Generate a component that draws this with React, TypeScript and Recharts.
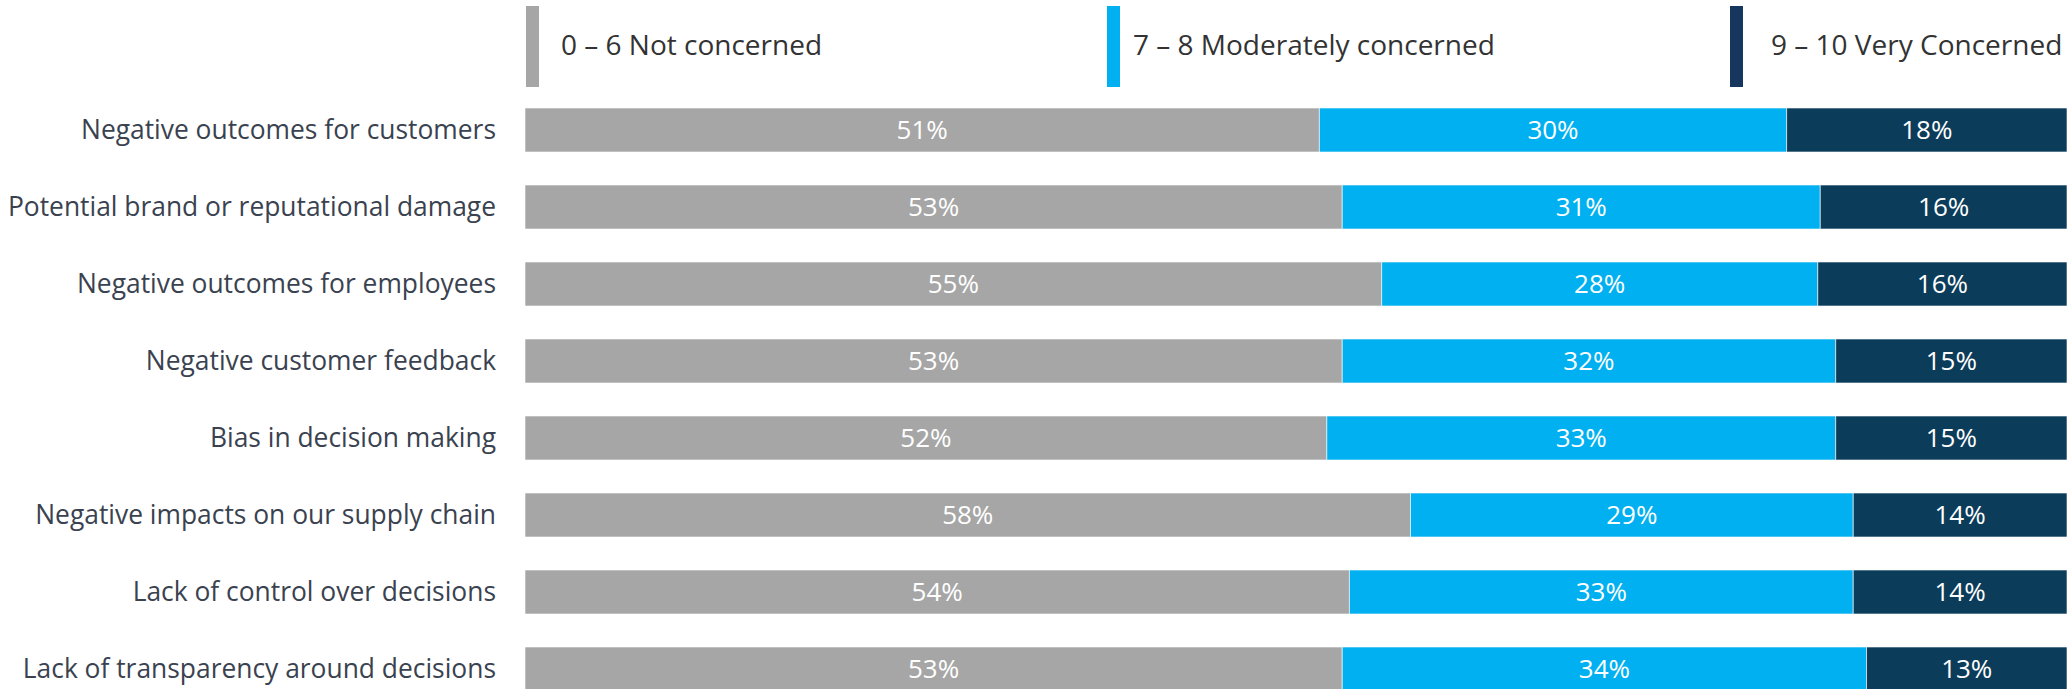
import React from 'react'
import { BarChart, Bar, XAxis, YAxis, LabelList } from 'recharts'

const categories = [
  'Negative outcomes for customers',
  'Potential brand or reputational damage',
  'Negative outcomes for employees',
  'Negative customer feedback',
  'Bias in decision making',
  'Negative impacts on our supply chain',
  'Lack of control over decisions',
  'Lack of transparency around decisions',
]
const notConcerned = [51, 53, 55, 53, 52, 58, 54, 53]
const moderately = [30, 31, 28, 32, 33, 29, 33, 34]
const very = [18, 16, 16, 15, 15, 14, 14, 13]

const seriesNames = ['0 – 6 Not concerned', '7 – 8 Moderately concerned', '9 – 10 Very Concerned']
const barColors = ['#A6A6A6', '#00B0F0', '#0B3C5A']
const legendColors = ['#A6A6A6', '#00B0F0', '#17365D']

// legend placement (px): swatch left, text left
const legendPos = [
  { bar: 526, text: 561 },
  { bar: 1107, text: 1133 },
  { bar: 1730, text: 1771 },
]

const data = categories.map((name, i) => ({
  name,
  a: notConcerned[i],
  b: moderately[i],
  c: very[i],
}))

const FONT = '"Open Sans", "Noto Sans", sans-serif'

export default function App() {
  return (
    <div
      style={{
        width: 2067,
        height: 689,
        overflow: 'hidden',
        position: 'relative',
        background: '#fff',
        fontFamily: FONT,
      }}
    >
      <style>{'html,body{margin:0;padding:0;overflow:hidden}'}</style>
      {seriesNames.map((s, i) => (
        <React.Fragment key={s}>
          <div
            style={{
              position: 'absolute',
              left: legendPos[i].bar,
              top: 6,
              width: 13,
              height: 81,
              background: legendColors[i],
            }}
          />
          <div
            style={{
              position: 'absolute',
              left: legendPos[i].text,
              top: 25,
              fontSize: 28,
              lineHeight: '38px',
              color: '#333333',
              whiteSpace: 'nowrap',
            }}
          >
            {s}
          </div>
        </React.Fragment>
      ))}
      <div style={{ position: 'absolute', left: 0, top: 0 }}>
        <BarChart
          width={2067}
          height={707}
          data={data}
          layout="vertical"
          stackOffset="expand"
          margin={{ top: 91, right: 0, left: 0, bottom: 0 }}
          barSize={44}
        >
          <XAxis type="number" domain={[0, 1]} hide />
          <YAxis
            type="category"
            dataKey="name"
            width={525}
            axisLine={false}
            tickLine={false}
            tickSize={0}
            tickMargin={29}
            tick={{ fill: '#3A4250', fontSize: 26.4, fontFamily: FONT }}
            interval={0}
          />
          {['a', 'b', 'c'].map((k, i) => (
            <Bar
              key={k}
              dataKey={k}
              stackId="s"
              fill={barColors[i]}
              stroke="#ffffff"
              strokeWidth={0.6}
              isAnimationActive={false}
            >
              <LabelList
                dataKey={k}
                position="center"
                fill="#ffffff"
                fontSize={26}
                fontFamily={FONT}
                formatter={(v: number) => `${v}%`}
              />
            </Bar>
          ))}
        </BarChart>
      </div>
    </div>
  )
}
